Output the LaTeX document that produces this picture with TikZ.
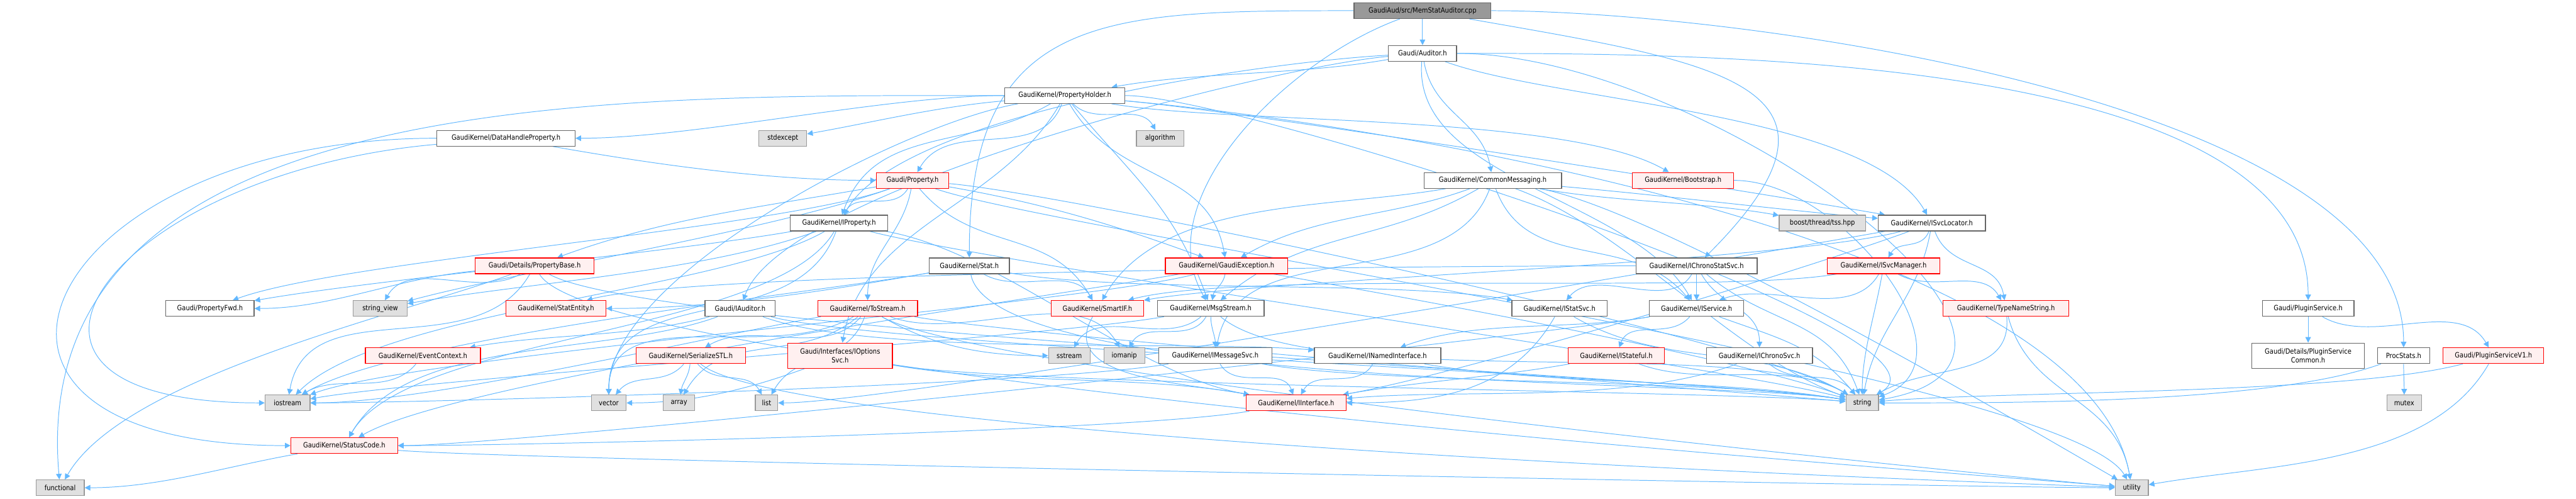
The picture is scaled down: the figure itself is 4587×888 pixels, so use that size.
\documentclass[tikz,border=0pt]{standalone}
\usepackage{fontspec}
\setmainfont{DejaVu Sans}[FakeStretch=0.87]
\usepackage{tikz}
\usetikzlibrary{arrows.meta, calc}
\definecolor{edgeblue}{HTML}{63B8FF}
\definecolor{boxgray}{HTML}{666666}
\definecolor{sysgray}{HTML}{999999}
\definecolor{sysfill}{HTML}{E0E0E0}
\definecolor{truncfill}{HTML}{FFF0F0}
\definecolor{rootfill}{HTML}{999999}
\pgfdeclarelayer{edges}
\pgfsetlayers{edges,main}
\tikzset{
    file/.style={draw=boxgray, fill=white, line width=0.28mm, inner sep=0pt,
        minimum height=5.6mm, font=\fontsize{7.3}{9}\selectfont},
    sysfile/.style={file, draw=sysgray, fill=sysfill},
    trunc/.style={file, draw=red, fill=truncfill},
    root/.style={file, fill=rootfill},
    twoline/.style={align=center, minimum height=9mm},
    wd/.style={minimum width=#1*0.2mm},
    dep/.style={draw=edgeblue, line width=0.22mm, -{Triangle[length=2mm,width=2mm]}}
}

\begin{document}
\begin{tikzpicture}[x=0.2mm, y=-0.2mm]
    \useasboundingbox (0,0) rectangle (4587,888);

    % ---------------- top rows ----------------
    \node[root, wd=244] (mem) at (2533,19) {GaudiAud/src/MemStatAuditor.cpp};
    \node[file, wd=121] (aud) at (2533,95) {Gaudi/Auditor.h};
    \node[file, wd=214] (ph) at (1896,170) {GaudiKernel/PropertyHolder.h};

    \node[file, wd=246] (dhp) at (901,246) {GaudiKernel/DataHandleProperty.h};
    \node[sysfile, wd=85] (stdexc) at (1394,246) {stdexcept};
    \node[sysfile, wd=85] (algo) at (2066,246) {algorithm};

    \node[trunc, wd=129] (prop) at (1625,321) {Gaudi/Property.h};
    \node[file, wd=245] (cmsg) at (2658,321) {GaudiKernel/CommonMessaging.h};
    \node[trunc, wd=180] (boot) at (2997,321) {GaudiKernel/Bootstrap.h};

    \node[file, wd=173] (iprop) at (1494,397) {GaudiKernel/IProperty.h};
    \node[sysfile, wd=154] (tss) at (3245,397) {boost/thread/tss.hpp};
    \node[file, wd=191] (isl) at (3440,397) {GaudiKernel/ISvcLocator.h};

    % ---------------- middle rows ----------------
    \node[trunc, wd=212] (pbase) at (952,473) {Gaudi/Details/PropertyBase.h};
    \node[file, wd=143] (stat) at (1726,473) {GaudiKernel/Stat.h};
    \node[trunc, wd=218] (gexc) at (2184,473) {GaudiKernel/GaudiException.h};
    \node[file, wd=216] (icss) at (3021,473) {GaudiKernel/IChronoStatSvc.h};
    \node[trunc, wd=200] (ism) at (3354,473) {GaudiKernel/ISvcManager.h};

    \node[file, wd=157] (pfwd) at (374,549) {Gaudi/PropertyFwd.h};
    \node[sysfile, wd=96] (sview) at (677,549) {string\_view};
    \node[trunc, wd=178] (sent) at (990,549) {GaudiKernel/StatEntity.h};
    \node[file, wd=125] (iaud) at (1318,549) {Gaudi/IAuditor.h};
    \node[trunc, wd=178] (tost) at (1545,549) {GaudiKernel/ToStream.h};
    \node[trunc, wd=165] (smartif) at (1954,549) {GaudiKernel/SmartIF.h};
    \node[file, wd=190] (msgs) at (2156,549) {GaudiKernel/MsgStream.h};
    \node[file, wd=170] (istat) at (2777,549) {GaudiKernel/IStatSvc.h};
    \node[file, wd=168] (isvc) at (3021,549) {GaudiKernel/IService.h};
    \node[trunc, wd=224] (tns) at (3572,549) {GaudiKernel/TypeNameString.h};
    \node[file, wd=163] (plug) at (4110,549) {Gaudi/PluginService.h};

    \node[trunc, wd=205] (evctx) at (753,633) {GaudiKernel/EventContext.h};
    \node[trunc, wd=195] (sstl) at (1230,633) {GaudiKernel/SerializeSTL.h};
    \node[trunc, wd=186, twoline] (iopt) at (1496,633) {Gaudi/Interfaces/IOptions\\Svc.h};
    \node[sysfile, wd=74] (sstr) at (1904,633) {sstream};
    \node[sysfile, wd=73] (ioman) at (2002,633) {iomanip};
    \node[file, wd=202] (imsg) at (2164,633) {GaudiKernel/IMessageSvc.h};
    \node[file, wd=225] (inamed) at (2453,633) {GaudiKernel/INamedInterface.h};
    \node[trunc, wd=171] (istf) at (2878,633) {GaudiKernel/IStateful.h};
    \node[file, wd=189] (ichr) at (3133,633) {GaudiKernel/IChronoSvc.h};
    \node[file, wd=200, twoline] (pscom) at (4110,633) {Gaudi/Details/PluginService\\Common.h};
    \node[file, wd=93] (procst) at (4280,633) {ProcStats.h};
    \node[trunc, wd=179] (psv1) at (4440,633) {Gaudi/PluginServiceV1.h};

    % ---------------- bottom rows ----------------
    \node[sysfile, wd=80] (iostr) at (512,717) {iostream};
    \node[sysfile, wd=62] (vec) at (1084,717) {vector};
    \node[sysfile, wd=56] (arr) at (1209,717) {array};
    \node[sysfile, wd=40] (lst) at (1365,717) {list};
    \node[trunc, wd=178] (iint) at (2308,717) {GaudiKernel/IInterface.h};
    \node[sysfile, wd=58] (str) at (3316,717) {string};
    \node[sysfile, wd=62] (mtx) at (4281,717) {mutex};

    \node[trunc, wd=190] (sc) at (613,793) {GaudiKernel/StatusCode.h};

    \node[sysfile, wd=86] (func) at (107,868) {functional};
    \node[sysfile, wd=59] (util) at (3796,868) {utility};

    % ---------------- includes ----------------
    \begin{pgfonlayer}{edges}
    \foreach \s/\t/\o/\i in {
        mem/aud/-90/90, mem/msgs/200/120,
        aud/ph/190/10, aud/iaud/185/70, aud/iprop/183/60, aud/cmsg/-80/100, aud/isvc/-95/120,
        aud/isl/-20/120,
        ph/dhp/180/0, ph/stdexc/185/10, ph/algo/-45/120, ph/prop/-110/60, ph/iprop/-150/70,
        ph/boot/-10/150, ph/gexc/-60/100, ph/isl/-5/170, ph/msgs/-50/110, ph/iopt/-120/80,
        ph/vec/190/90, ph/str/0/30,
        dhp/prop/-10/180,
        prop/pbase/190/20, prop/pfwd/200/20, prop/iprop/-120/60, prop/tost/-100/90,
        prop/smartif/-50/120, prop/gexc/-10/160, prop/str/-5/150, prop/sview/200/15,
        prop/util/-20/120,
        cmsg/tss/-10/170, cmsg/isl/-5/175, cmsg/imsg/-110/80, cmsg/msgs/-150/40,
        cmsg/smartif/190/60, cmsg/gexc/200/30, cmsg/isvc/-70/130, cmsg/str/-20/160,
        cmsg/util/-10/150,
        boot/str/0/20,
        iprop/pfwd/190/10, iprop/iint/-10/170, iprop/sc/-120/60, iprop/str/-15/165,
        iprop/sview/200/10, iprop/vec/-110/90, iprop/iostr/210/45,
        isl/iint/200/10, isl/ism/-110/60, isl/smartif/195/10, isl/tns/-70/100,
        isl/lst/190/0, isl/str/-100/80,
        pbase/pfwd/185/0, pbase/sview/-150/60, pbase/iostr/-120/80, pbase/str/-30/170,
        pbase/util/-60/175, pbase/func/200/60,
        stat/sent/190/0, stat/istat/-10/170, stat/smartif/-30/120, stat/str/-80/170,
        stat/iostr/190/30,
        gexc/msgs/-100/80, gexc/sc/190/30, gexc/iostr/195/20, gexc/str/-10/160,
        icss/istat/-120/50, icss/isvc/-90/90, icss/ichr/-60/90, icss/str/-40/110,
        icss/sent/180/15,
        ism/isvc/-120/20, ism/tns/-30/120, ism/str/-100/90, ism/smartif/190/15,
        tost/sstl/-130/30, tost/sstr/-30/180, tost/ioman/-20/120, tost/str/-10/175,
        tost/vec/-150/90, tost/arr/-140/60, tost/lst/-110/60, tost/util/-30/175,
        tost/iostr/190/0,
        sstl/vec/-130/50, sstl/arr/-95/80, sstl/lst/-50/120, sstl/util/-40/178,
        iaud/evctx/195/10, iaud/inamed/-20/175, iaud/sc/200/60, iaud/str/-15/170,
        smartif/iint/-120/170,
        msgs/sstr/-140/60, msgs/ioman/-120/60, msgs/imsg/-90/90, msgs/iostr/190/10,
        msgs/str/-40/150,
        imsg/iint/-60/110, imsg/str/-10/170, imsg/iostr/190/0,
        istat/iint/-120/0, istat/str/-30/150,
        isvc/inamed/190/20, isvc/istf/-130/70, isvc/str/-20/130, isvc/sc/190/0,
        inamed/iint/-120/60, inamed/str/-10/170,
        istf/iint/190/10, istf/str/-20/150,
        ichr/iint/200/5, ichr/str/-40/130,
        tns/str/-85/30, tns/util/-75/100,
        plug/pscom/-90/90, plug/psv1/-30/120,
        psv1/str/195/5, psv1/util/-120/10,
        procst/mtx/-90/90, procst/str/200/0,
        evctx/iostr/-130/30,
        iint/sc/190/0,
        iopt/vec/200/0, iopt/str/-10/175, iopt/iint/-10/170,
        sc/func/190/0, sc/util/-5/180}
        \draw[dep] let \p1=(\s.\o), \p2=(\t.\i),
            \n1={min(0.3*(abs(\x2-\x1)+abs(\y2-\y1)),120pt)} in
            (\p1) .. controls +(\o:\n1) and +(\i:\n1) .. (\p2);

    % long sweeps round the sides
    \foreach \s/\t/\o/\i/\c in {
        mem/stat/180/90/250, mem/icss/-10/45/250, mem/procst/0/90/250,
        aud/plug/0/90/250, aud/str/0/10/250, ph/util/-5/100/250,
        ph/func/180/95/400, dhp/sc/180/180/400, dhp/iostr/185/180/330}
        \draw[dep] let \p1=(\s.\o), \p2=(\t.\i) in
            (\p1) .. controls +(\o:\c pt) and +(\i:\c pt) .. (\p2);
    \end{pgfonlayer}
\end{tikzpicture}
\end{document}
